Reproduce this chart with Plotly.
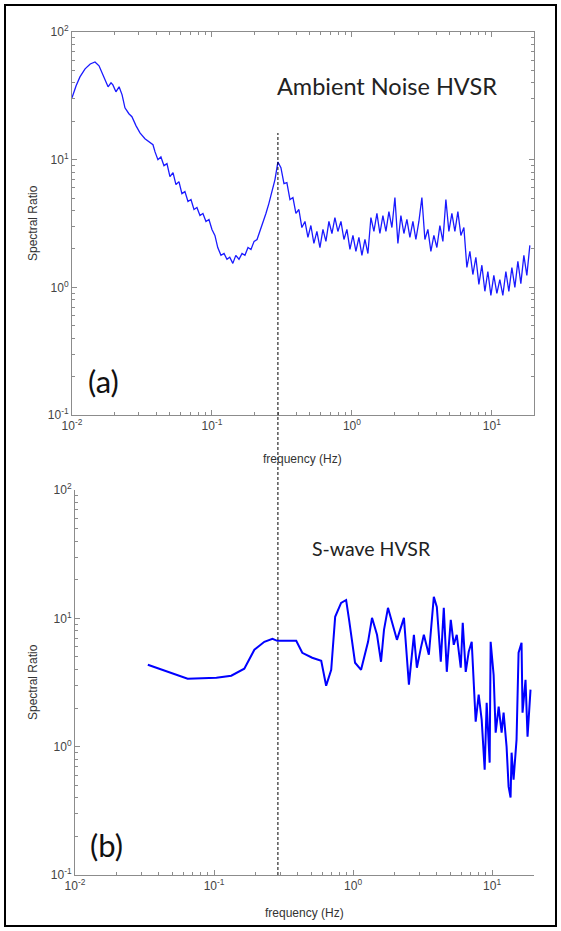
import plotly.graph_objects as go

# ---------------- data ----------------
# (a) Ambient noise HVSR
freq_a = [0.0100, 0.0107, 0.0114, 0.0124, 0.0135, 0.0146, 0.0156, 0.0164, 0.0172, 0.0181,
          0.0190, 0.0196, 0.0206, 0.0217, 0.0228, 0.0239, 0.0255, 0.0268, 0.0287, 0.0306,
          0.0332, 0.0361, 0.0379, 0.0392, 0.0411, 0.0432, 0.0454, 0.0477, 0.0501, 0.0527,
          0.0553, 0.0581, 0.0610, 0.0641, 0.0674, 0.0708, 0.0744, 0.0781, 0.0821, 0.0862,
          0.0906, 0.0952, 0.100, 0.105, 0.110, 0.116, 0.122, 0.128, 0.134, 0.141,
          0.148, 0.156, 0.164, 0.172, 0.181, 0.190, 0.200, 0.210, 0.220, 0.231,
          0.243, 0.255, 0.268, 0.282, 0.296,
          0.311, 0.327, 0.343, 0.361, 0.379, 0.398, 0.418, 0.439, 0.462, 0.485,
          0.509, 0.535, 0.562, 0.591, 0.621, 0.652, 0.685, 0.720, 0.756, 0.794,
          0.835, 0.877, 0.921, 0.968, 1.017, 1.068, 1.122, 1.179, 1.239, 1.301,
          1.367, 1.436, 1.509, 1.585, 1.665, 1.750, 1.838, 1.931, 2.029, 2.131,
          2.239, 2.352, 2.471, 2.596, 2.728, 2.865, 3.010, 3.162, 3.322, 3.490,
          3.667, 3.852, 4.047, 4.252, 4.467, 4.693, 4.930, 5.180, 5.441, 5.717,
          6.006, 6.310, 6.629, 6.964, 7.316, 7.686, 8.075, 8.483, 8.913, 9.363,
          9.837, 10.33, 10.86, 11.40, 11.98, 12.59, 13.22, 13.90, 14.60, 15.34,
          16.11, 16.93, 17.78, 18.68]
ratio_a = [30.5, 37.9, 44.5, 51.4, 56.2, 58.3, 54.3, 47.9, 42.2, 37.2,
           40.0, 38.5, 34.0, 37.2, 32.2, 25.5, 22.9, 21.7, 18.4, 16.2,
           14.6, 13.6, 13.1, 11.5, 10.0, 10.5, 8.98, 9.31, 7.36, 7.91,
           6.38, 6.73, 5.42, 5.62, 4.70, 4.87, 4.07, 4.22, 3.65, 3.79,
           3.28, 3.40, 2.84, 2.55, 2.05, 1.78, 1.84, 1.66, 1.72, 1.54,
           1.78, 1.66, 1.84, 1.78, 2.05, 1.98, 2.29, 2.37, 2.74, 3.16,
           3.79, 4.53, 5.62, 6.98, 9.6,
           8.66, 6.49, 6.61, 4.87, 5.05, 3.79, 4.07, 2.94, 3.28, 2.46,
           3.05, 2.21, 2.74, 2.05, 2.84, 2.29, 3.28, 2.64, 3.52, 2.74,
           3.28, 2.37, 2.84, 1.98, 2.55, 1.91, 2.46, 1.78, 2.37, 1.84,
           3.52, 2.74, 3.79, 2.64, 3.65, 2.74, 3.92, 2.94, 5.05, 2.21,
           3.65, 2.64, 3.40, 2.46, 3.28, 2.37, 3.28, 5.05, 2.37, 2.84,
           1.91, 2.55, 2.05, 3.05, 2.29, 4.87, 2.74, 3.79, 2.74, 3.92,
           2.55, 2.94, 1.43, 1.91, 1.26, 1.72, 1.055, 1.49, 0.931, 1.33,
           0.866, 1.24, 0.898, 1.15, 0.866, 1.33, 0.931, 1.43, 1.00, 1.60,
           1.07, 1.78, 1.24, 2.13]

# (b) S-wave HVSR
freq_b = [0.0334, 0.0646, 0.104, 0.133, 0.165, 0.195, 0.230, 0.263, 0.285, 0.390,
          0.431, 0.508, 0.590, 0.640, 0.696, 0.743, 0.820, 0.891, 0.936, 1.033,
          1.141, 1.281, 1.368, 1.486, 1.588, 1.668, 1.782, 1.904, 2.067, 2.321,
          2.520, 2.737, 2.876, 3.073, 3.228, 3.506, 3.807, 4.001, 4.273, 4.490,
          4.719, 5.041, 5.297, 5.566, 5.946, 6.145, 6.457, 6.784, 7.129, 7.614,
          8.002, 8.409, 8.836, 9.133, 9.597, 9.755, 10.25, 10.60, 11.14, 11.70,
          12.09, 12.70, 13.13, 13.57, 13.80, 14.26, 14.98, 15.49, 16.27, 16.54,
          17.38, 17.97, 18.88]
ratio_b = [4.35, 3.38, 3.44, 3.57, 4.05, 5.69, 6.56, 6.93, 6.68, 6.68,
           5.39, 4.93, 4.67, 2.98, 3.97, 10.27, 13.2, 13.9, 9.73, 4.51,
           3.97, 6.56, 10.09, 7.44, 4.59, 8.14, 12.07, 9.23, 6.80, 10.09,
           3.04, 7.44, 4.12, 5.89, 7.44, 5.20, 14.70, 12.29, 4.59, 12.07,
           3.83, 9.73, 6.22, 7.44, 4.12, 9.23, 3.83, 5.49, 6.56, 1.565,
           2.54, 1.62, 0.662, 2.20, 0.751, 6.56, 3.63, 1.285, 2.05, 1.285,
           1.84, 1.00, 0.488, 0.401, 0.898, 0.554, 1.134, 5.39, 6.45, 1.84,
           3.32, 1.196, 2.78]

peak_freq = 0.296
x_tick_vals = [0.01, 0.1, 1, 10]
x_tick_text = ["10<sup>-2</sup>", "10<sup>-1</sup>", "10<sup>0</sup>", "10<sup>1</sup>"]
y_tick_vals = [0.1, 1, 10, 100]
y_tick_text = ["10<sup>-1</sup>", "10<sup>0</sup>", "10<sup>1</sup>", "10<sup>2</sup>"]
x_minor = [m * d for d in [0.01, 0.1, 1, 10] for m in range(2, 10)]
y_minor = [m * d for d in [0.1, 1, 10] for m in range(2, 10)]

# ---------------- figure ----------------
W, H = 561, 931
L, R, T, B = 72, 27, 32, 56
pw, ph = W - L - R, H - T - B


def px_x(p):
    return (p - L) / pw


def px_y(p):
    return (H - B - p) / ph


fig = go.Figure()
fig.add_trace(go.Scatter(x=freq_a, y=ratio_a, mode="lines", xaxis="x", yaxis="y",
                         line=dict(color="#1a1aff", width=1.3), showlegend=False))
fig.add_trace(go.Scatter(x=freq_b, y=ratio_b, mode="lines", xaxis="x2", yaxis="y2",
                         line=dict(color="#0000ff", width=2), showlegend=False))

tickfont = dict(family="Liberation Sans, Arial, sans-serif", size=12, color="#444444")
axcol = "#8c8c8c"
xlog_range = [-2, 1.30103]
ylog_range = [-1, 2]

common_x = dict(type="log", range=xlog_range, tickvals=x_tick_vals, ticktext=x_tick_text,
                ticks="inside", ticklen=5, tickcolor=axcol, showline=True, linecolor=axcol,
                linewidth=1, showgrid=False, zeroline=False, tickfont=tickfont,
                minor=dict(tickvals=x_minor, ticks="inside", ticklen=3, tickcolor=axcol,
                           showgrid=False))
common_y = dict(type="log", range=ylog_range, tickvals=y_tick_vals, ticktext=y_tick_text,
                ticks="inside", ticklen=5, tickcolor=axcol, showline=True, linecolor=axcol,
                linewidth=1, showgrid=False, zeroline=False, tickfont=tickfont,
                minor=dict(tickvals=y_minor, ticks="inside", ticklen=3, tickcolor=axcol,
                           showgrid=False))

top_dom = [px_y(415), 1.0]
bot_dom = [0.0, px_y(490)]

fig.update_layout(
    width=W, height=H,
    margin=dict(l=L, r=R, t=T, b=B),
    paper_bgcolor="white", plot_bgcolor="white",
    xaxis=dict(common_x, domain=[0, 1], anchor="y", mirror="ticks"),
    yaxis=dict(common_y, domain=top_dom, anchor="x", mirror="ticks"),
    xaxis2=dict(common_x, domain=[px_x(75), 1], anchor="y2"),
    yaxis2=dict(common_y, domain=bot_dom, anchor="x2"),
)

# dashed line at the resonance frequency spanning both panels
fig.add_shape(type="line", xref="x", yref="paper", x0=peak_freq, x1=peak_freq,
              y0=0, y1=px_y(133), line=dict(color="black", width=1, dash="3px,2px"),
              layer="above")

# outer frame
fig.add_shape(type="rect", xref="paper", yref="paper",
              x0=px_x(5), x1=px_x(556), y0=px_y(926), y1=px_y(5),
              line=dict(color="black", width=2), fillcolor="rgba(0,0,0,0)")

title_font_a = dict(family="Lato, Open Sans, sans-serif", size=23.5, color="#222222")
title_font_b = dict(family="Lato, Open Sans, sans-serif", size=19.5, color="#222222")
label_font = dict(family="Lato, Open Sans, sans-serif", size=31, color="#111111")
axis_font = dict(family="Liberation Sans, Arial, sans-serif", size=12, color="#333333")

annos = [
    dict(text="Ambient Noise HVSR", x=px_x(275), y=px_y(86), xanchor="left", yanchor="middle", font=title_font_a),
    dict(text="S-wave HVSR", x=px_x(310), y=px_y(548), xanchor="left", yanchor="middle", font=title_font_b),
    dict(text="(a)", x=px_x(86), y=px_y(381), xanchor="left", yanchor="middle", font=label_font),
    dict(text="(b)", x=px_x(88), y=px_y(845), xanchor="left", yanchor="middle", font=label_font),
    dict(text="Spectral Ratio", x=px_x(33), y=px_y(223), textangle=-90, xanchor="center", yanchor="middle", font=axis_font),
    dict(text="Spectral Ratio", x=px_x(33), y=px_y(682), textangle=-90, xanchor="center", yanchor="middle", font=axis_font),
    dict(text="frequency (Hz)", x=px_x(302), y=px_y(459), xanchor="center", yanchor="middle", font=axis_font),
    dict(text="frequency (Hz)", x=px_x(304), y=px_y(913), xanchor="center", yanchor="middle", font=axis_font),
]
for a in annos:
    fig.add_annotation(xref="paper", yref="paper", showarrow=False, **a)

fig.write_html("out.html", config={"displayModeBar": False},
               post_script="document.body.style.margin='0px';")
